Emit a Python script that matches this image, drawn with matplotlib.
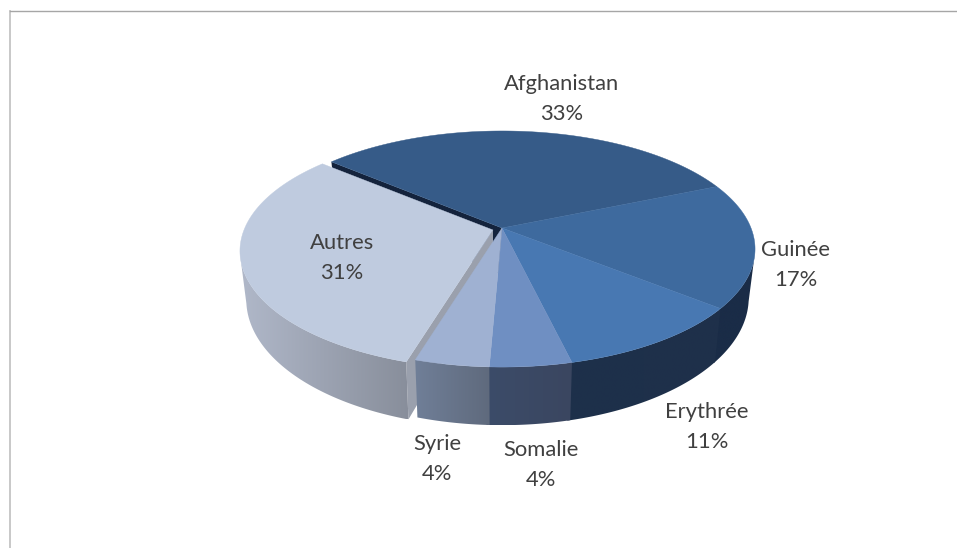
import numpy as np
import matplotlib
matplotlib.use('Agg')
import matplotlib.pyplot as plt
from matplotlib.patches import Polygon
from matplotlib.colors import to_rgb

# Data
countries = ['Afghanistan', 'Guinée', 'Erythrée', 'Somalie', 'Syrie', 'Autres']
percent_labels = ['33%', '17%', '11%', '4%', '4%', '31%']
shares = [32.5, 17.1, 10.5, 4.4, 4.0, 31.5]

top_colors = ['#365b88', '#3e6a9e', '#4878b2', '#6f8fc2', '#9fb1d2', '#bfcbdf']
wall_left = ['#1a2c47', '#1a2c47', '#1d304b', '#3c4c69', '#707f98', '#b0b8c9']
wall_right = ['#1a2c47', '#1a2c47', '#1f304a', '#3a4660', '#5f6a7d', '#888e9b']

label_x = [562, 796, 707, 541, 437, 342]
label_y = [99, 265, 427, 465, 459, 258]

# fake 3d projection, all in pixels
cx, cy = 502, 228
radius = 249
tilt = 114.3
persp = 0.178
depth = 47
shrink_x = 0.975
stretch_y = 1.08
start_angle = -49.8
# part of the rim where the side wall can be seen
near_from, near_to = 102, 258


def rim(angle, dx=0, dy=0, low=False):
    a = np.radians(angle)
    u, v = np.sin(a), np.cos(a)
    s = 1 / (1 + persp * v)
    x = radius * u * s
    y = -tilt * v * s
    if low:
        return cx + dx + x * shrink_x, cy + dy + depth + y * stretch_y
    return cx + dx + x, cy + dy + y


def face(a1, a2, dx=0, dy=0):
    angles = np.linspace(a1, a2, 120)
    x, y = rim(angles, dx, dy)
    return np.column_stack([np.r_[cx + dx, x], np.r_[cy + dy, y]])


def cut(angle, dx=0, dy=0):
    x1, y1 = rim(angle, dx, dy)
    x2, y2 = rim(angle, dx, dy, low=True)
    return [(cx + dx, cy + dy), (x1, y1), (x2, y2), (cx + dx, cy + dy + depth)]


def wall(ax, a1, a2, left, right, z, dx=0, dy=0):
    a1, a2 = max(a1, near_from), min(a2, near_to)
    if a1 >= a2:
        return
    angles = np.linspace(a1, a2, 160)
    xt, yt = rim(angles, dx, dy)
    xb, yb = rim(angles, dx, dy, low=True)
    outline = np.column_stack([np.r_[xt, xb[::-1]], np.r_[yt, yb[::-1]]])
    lo, hi = outline[:, 0].min(), outline[:, 0].max()
    c1, c2 = np.array(to_rgb(left)), np.array(to_rgb(right))
    t = np.linspace(0, 1, 256)[:, None]
    grad = (c1 + (c2 - c1) * t)[None, :, :]
    im = ax.imshow(grad, extent=(lo, hi, outline[:, 1].max(), outline[:, 1].min()),
                   aspect='auto', zorder=z, interpolation='bilinear')
    im.set_clip_path(Polygon(outline, transform=ax.transData))


fig = plt.figure(figsize=(9.57, 5.48), dpi=100)
ax = fig.add_axes([10 / 957, 0, 947 / 957, 537 / 548])
ax.set_xticks([])
ax.set_yticks([])
ax.spines['right'].set_visible(False)
ax.spines['bottom'].set_visible(False)
ax.spines['top'].set_color('#a6a6a6')
ax.spines['left'].set_color('#c4c4c4')
ax.spines['top'].set_linewidth(1.0)
ax.spines['left'].set_linewidth(1.3)

edges = start_angle + np.r_[0, np.cumsum(shares)] * 3.6
off_x, off_y = -9, 2

# Afghanistan inner face goes first, it only shows in the gap
ax.fill(*zip(*cut(edges[0])), color='#14233c', lw=0, zorder=1)

# exploded slice
ax.fill(*zip(*cut(edges[5], off_x, off_y)), color='#9aa0ad', lw=0, zorder=2)
wall(ax, edges[5], edges[6], wall_left[5], wall_right[5], 3, off_x, off_y)

# a bit of overlap between neighbours, else hairlines show through
for i in range(5):
    overlap = 0.6 if i < 4 else 0
    wall(ax, edges[i], edges[i + 1] + overlap, wall_left[i], wall_right[i], 4 + i)

for i in range(5):
    ax.fill(*face(edges[i], edges[i + 1]).T, color=top_colors[i], lw=0.3, zorder=10)
ax.fill(*face(edges[5], edges[6], off_x, off_y).T, color=top_colors[5], lw=0.3, zorder=11)

for name, pct, x, y in zip(countries, percent_labels, label_x, label_y):
    ax.text(x, y, name + '\n' + pct, ha='center', va='center', fontsize=15.8,
            family='Lato', color='#404040', linespacing=1.65, zorder=12)

ax.set_xlim(10, 957)
ax.set_ylim(548, 11)

fig.savefig('out.png', dpi=100)
